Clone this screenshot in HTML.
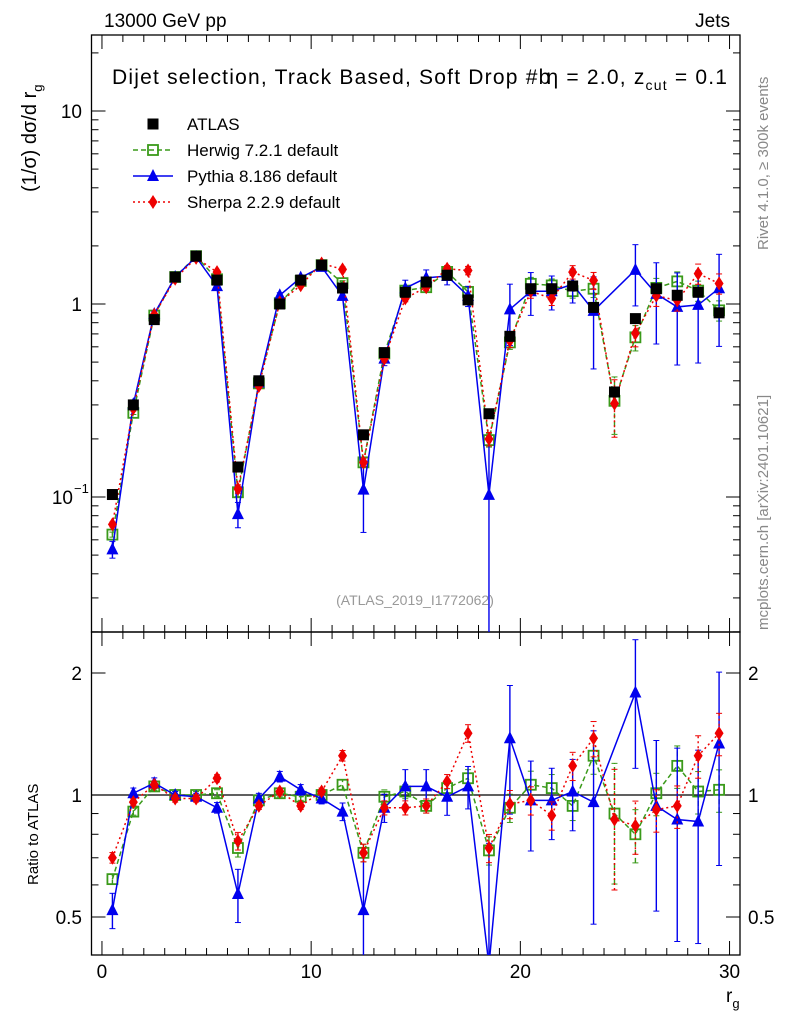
<!DOCTYPE html>
<html><head><meta charset="utf-8"><style>
html,body{margin:0;background:#fff;width:786px;height:1024px;overflow:hidden;position:relative}
svg text{font-family:"Liberation Sans",sans-serif}
</style></head><body>
<svg id="c" width="786" height="1024" style="position:absolute;left:0;top:0" xmlns="http://www.w3.org/2000/svg"></svg>
<script>
const bins=[0.5,1.5,2.5,3.5,4.5,5.5,6.5,7.5,8.5,9.5,10.5,11.5,12.5,13.5,14.5,15.5,16.5,17.5,18.5,19.5,20.5,21.5,22.5,23.5,24.5,25.5,26.5,27.5,28.5,29.5];
const atlas=[0.103,0.30,0.83,1.38,1.77,1.33,0.143,0.40,1.0,1.33,1.59,1.21,0.21,0.56,1.15,1.3,1.41,1.05,0.27,0.68,1.2,1.2,1.24,0.96,0.35,0.84,1.2,1.11,1.15,0.9];
const herwigRatio=[0.62,0.91,1.05,1.0,1.0,1.01,0.74,0.97,1.01,0.99,1.0,1.06,0.72,0.99,1.02,0.94,1.04,1.10,0.73,0.93,1.06,1.04,0.94,1.25,0.9,0.80,1.01,1.18,1.02,1.03];
const pythiaRatio=[0.52,1.01,1.07,1.0,0.99,0.93,0.57,0.98,1.11,1.03,0.98,0.91,0.52,0.93,1.05,1.05,0.99,1.05,0.38,1.38,0.97,0.97,1.02,0.96,null,1.79,0.94,0.87,0.86,1.34];
const sherpaRatio=[0.70,0.96,1.06,0.98,0.98,1.10,0.77,0.94,1.02,0.94,1.02,1.25,0.72,0.93,0.93,0.94,1.08,1.42,0.74,0.95,0.97,0.89,1.18,1.38,0.87,0.84,0.92,0.94,1.25,1.42];
const pythiaErr=[0.1,0.03,0.03,0.02,0.02,0.03,0.15,0.03,0.03,0.03,0.03,0.05,0.4,0.08,0.1,0.1,0.1,0.12,1.0,0.35,0.25,0.2,0.2,0.5,0,0.35,0.45,0.5,0.5,0.5];
const mcErr=[0.03,0.02,0.02,0.02,0.02,0.02,0.05,0.02,0.02,0.02,0.02,0.03,0.05,0.04,0.04,0.04,0.04,0.05,0.08,0.08,0.08,0.08,0.08,0.1,0.33,0.15,0.12,0.12,0.12,0.12];
const xTicks=[0,10,20,30];
const NS="http://www.w3.org/2000/svg";
const svg=document.getElementById('c');
const X0=91.5,X1=740,M0=35,M1=632,R1=955;
const xs=v=>X0+(v+0.5)/31*(X1-X0);
const ym=v=>304-193*Math.log10(v);
const yr=v=>795-122*Math.log2(v);
function el(t,a,p){const e=document.createElementNS(NS,t);for(const k in a)e.setAttribute(k,a[k]);(p||svg).appendChild(e);return e;}
function txt(s,x,y,size,a,p){const e=el('text',Object.assign({x:x,y:y,'font-size':size},a||{}),p);e.textContent=s;return e;}
let f1=el('rect',{x:X0,y:M0,width:X1-X0,height:M1-M0,fill:'none',stroke:'#000','stroke-width':1.3});

let f2=el('rect',{x:X0,y:M1,width:X1-X0,height:R1-M1,fill:'none',stroke:'#000','stroke-width':1.3});

for(let v=0;v<=30;v++){const x=xs(v);const L=v%10==0?14:7;
 el('line',{x1:x,x2:x,y1:M1,y2:M1-L,stroke:'#000'});el('line',{x1:x,x2:x,y1:M0,y2:M0+L,stroke:'#000'});
 el('line',{x1:x,x2:x,y1:R1,y2:R1-L,stroke:'#000'});el('line',{x1:x,x2:x,y1:M1,y2:M1+L,stroke:'#000'});}
xTicks.forEach(v=>{const t=txt(v,xs(v),978,19,{'text-anchor':'middle'});});
for(let d=-2;d<=1;d++)for(let m=1;m<10;m++){const v=m*Math.pow(10,d);const y=ym(v);if(y<M0||y>M1)continue;const L=m==1?14:7;
 el('line',{x1:X0,x2:X0+L,y1:y,y2:y,stroke:'#000'});el('line',{x1:X1,x2:X1-L,y1:y,y2:y,stroke:'#000'});}
let t=txt('10',82,118,19,{'text-anchor':'end'});
t=txt('1',82,311,19,{'text-anchor':'end'});
t=txt('10',73,504,19,{'text-anchor':'end'});
txt('−1',74,493,13);
[0.5,0.6,0.7,0.8,0.9,1,2].forEach(v=>{const y=yr(v);const L=(v==1||v==2||v==0.5)?14:7;
 el('line',{x1:X0,x2:X0+L,y1:y,y2:y,stroke:'#000'});el('line',{x1:X1,x2:X1-L,y1:y,y2:y,stroke:'#000'});});
[['2',2],['1',1],['0.5',0.5]].forEach(p=>{let a=txt(p[0],82,yr(p[1])+7,19,{'text-anchor':'end'});
 let b=txt(p[0],748,yr(p[1])+7,19);});
el('line',{x1:X0,x2:X1,y1:yr(1),y2:yr(1),stroke:'#000','stroke-width':1.3});
const defs=el('defs',{});
const cp1=el('clipPath',{id:'cm'},defs);el('rect',{x:X0,y:M0,width:X1-X0,height:M1-M0},cp1);
const cp2=el('clipPath',{id:'cr'},defs);el('rect',{x:X0,y:M1,width:X1-X0,height:R1-M1},cp2);
const gm=el('g',{'clip-path':'url(#cm)'});
const gr=el('g',{'clip-path':'url(#cr)'});
function marker(g,type,x,y,c,name){let e;
 if(type=='sq')e=el('rect',{x:x-5.5,y:y-5.5,width:11,height:11,fill:'#000'},g);
 else if(type=='osq')e=el('rect',{x:x-5,y:y-5,width:10,height:10,fill:'none',stroke:c,'stroke-width':1.8},g);
 else if(type=='tri')e=el('polygon',{points:`${x},${y-7} ${x-6},${y+5} ${x+6},${y+5}`,fill:c},g);
 else e=el('polygon',{points:`${x},${y-7} ${x-4.5},${y} ${x},${y+7} ${x+4.5},${y}`,fill:c},g);
 }
function series(g,vals,errs,fy,c,dash,type,name){let pts=[];
 vals.forEach((v,i)=>{if(v==null)return;const x=xs(bins[i]);
  if(errs){const e=errs[i];if(e>0){const lo=Math.max(v*(1-e),1e-4);el('line',{x1:x,x2:x,y1:fy(lo),y2:fy(v*(1+e)),stroke:c,'stroke-width':1.4,'stroke-dasharray':dash},g);
   el('line',{x1:x-3,x2:x+3,y1:fy(v*(1+e)),y2:fy(v*(1+e)),stroke:c},g);el('line',{x1:x-3,x2:x+3,y1:fy(lo),y2:fy(lo),stroke:c},g);}}
  pts.push(x+','+fy(v));});
 const pl=el('polyline',{points:pts.join(' '),fill:'none',stroke:c,'stroke-width':1.5,'stroke-dasharray':dash},g);
 
 vals.forEach((v,i)=>{if(v!=null)marker(g,type,xs(bins[i]),fy(v),c,name+'-marker');});}
const herwig=herwigRatio.map((r,i)=>r*atlas[i]);
const pythia=pythiaRatio.map((r,i)=>r==null?null:r*atlas[i]);
const sherpa=sherpaRatio.map((r,i)=>r*atlas[i]);
series(gm,herwig,mcErr,ym,'#3a9a1a','5,3','osq','herwig');
series(gm,pythia,pythiaErr,ym,'#0000ee',null,'tri','pythia');
series(gm,sherpa,mcErr,ym,'#ee0000','2,3','dia','sherpa');
atlas.forEach((v,i)=>marker(gm,'sq',xs(bins[i]),ym(v),'#000','atlas-point'));
series(gr,herwigRatio,mcErr,yr,'#3a9a1a','5,3','osq','herwig-ratio');
series(gr,pythiaRatio,pythiaErr,yr,'#0000ee',null,'tri','pythia-ratio');
series(gr,sherpaRatio,mcErr,yr,'#ee0000','2,3','dia','sherpa-ratio');
const lg=el('g',{});
marker(lg,'sq',153,124,'#000','legend-atlas-marker');
el('line',{x1:133,x2:173,y1:150,y2:150,stroke:'#3a9a1a','stroke-dasharray':'5,3','stroke-width':1.5},lg);marker(lg,'osq',153,150,'#3a9a1a','legend-herwig-marker');
el('line',{x1:133,x2:173,y1:176,y2:176,stroke:'#0000ee','stroke-width':1.5},lg);marker(lg,'tri',153,176,'#0000ee','legend-pythia-marker');
el('line',{x1:133,x2:173,y1:202,y2:202,stroke:'#ee0000','stroke-dasharray':'2,3','stroke-width':1.5},lg);marker(lg,'dia',153,202,'#ee0000','legend-sherpa-marker');
[['ATLAS',124],['Herwig 7.2.1 default',150],['Pythia 8.186 default',176],['Sherpa 2.2.9 default',202]].forEach(p=>{const a=txt(p[0],187,p[1]+6,17,{},lg);});
</script>
<svg width="786" height="1024" style="position:absolute;left:0;top:0" xmlns="http://www.w3.org/2000/svg">
<text x="104" y="27" font-size="19" font-family="Liberation Sans">13000 GeV pp</text>
<text x="730" y="27" font-size="19" font-family="Liberation Sans" text-anchor="end">Jets</text>
<text x="112" y="84" font-size="21" font-family="Liberation Sans" textLength="615">Dijet selection, Track Based, Soft Drop #b<tspan dx="-5">η = 2.0, z</tspan><tspan font-size="14" dy="6">cut</tspan><tspan dy="-6"> = 0.1</tspan></text>
<text x="415" y="605" font-size="14" fill="#999" font-family="Liberation Sans" text-anchor="middle">(ATLAS_2019_I1772062)</text>
<text transform="translate(36,192) rotate(-90)" font-size="20" font-family="Liberation Sans">(1/σ) dσ/d r<tspan font-size="13" dy="6">g</tspan></text>
<text transform="translate(38,885) rotate(-90)" font-size="15" font-family="Liberation Sans">Ratio to ATLAS</text>
<text x="726" y="1002" font-size="19" font-family="Liberation Sans">r<tspan font-size="13" dy="6">g</tspan></text>
<text transform="translate(768,250) rotate(-90)" font-size="15" fill="#888" font-family="Liberation Sans">Rivet 4.1.0, ≥ 300k events</text>
<text transform="translate(768,630) rotate(-90)" font-size="15" fill="#888" font-family="Liberation Sans">mcplots.cern.ch [arXiv:2401.10621]</text>
</svg>
</body></html>
